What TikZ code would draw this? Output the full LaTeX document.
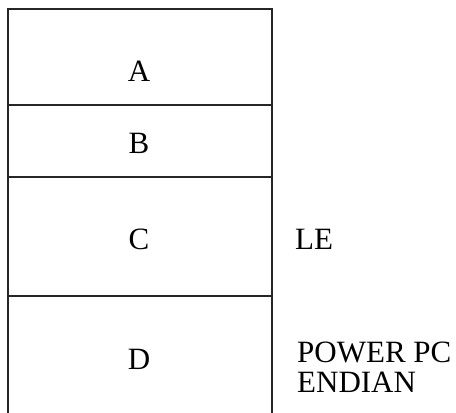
\documentclass[tikz,border=0pt]{standalone}
\usepackage{fontspec}
\setmainfont{Liberation Serif}
\begin{document}
\begin{tikzpicture}[x=1pt,y=-1pt,
  rule/.style={line width=1.6pt, draw=black!85},
  lbl/.style={inner sep=0pt, font=\fontsize{31}{30}\selectfont},
]
\useasboundingbox (0,0) rectangle (456,413);
\draw[rule] (8,413) -- (8,9) -- (272,9) -- (272,413);
\draw[rule] (8,105) -- (272,105);
\draw[rule] (8,177) -- (272,177);
\draw[rule] (8,296) -- (272,296);
\node[lbl, anchor=base] (a) at (139,81) {A};
\node[lbl, anchor=base] (b) at (139,153) {B};
\node[lbl, anchor=base] (c) at (139,249) {C};
\node[lbl, anchor=base] (d) at (139,369) {D};
\node[lbl, anchor=base west] (le) at (295,249) {LE};
\node[lbl, anchor=base west, align=left] (pp) at (297,392) {POWER PC\\ENDIAN};
\end{tikzpicture}
\end{document}
